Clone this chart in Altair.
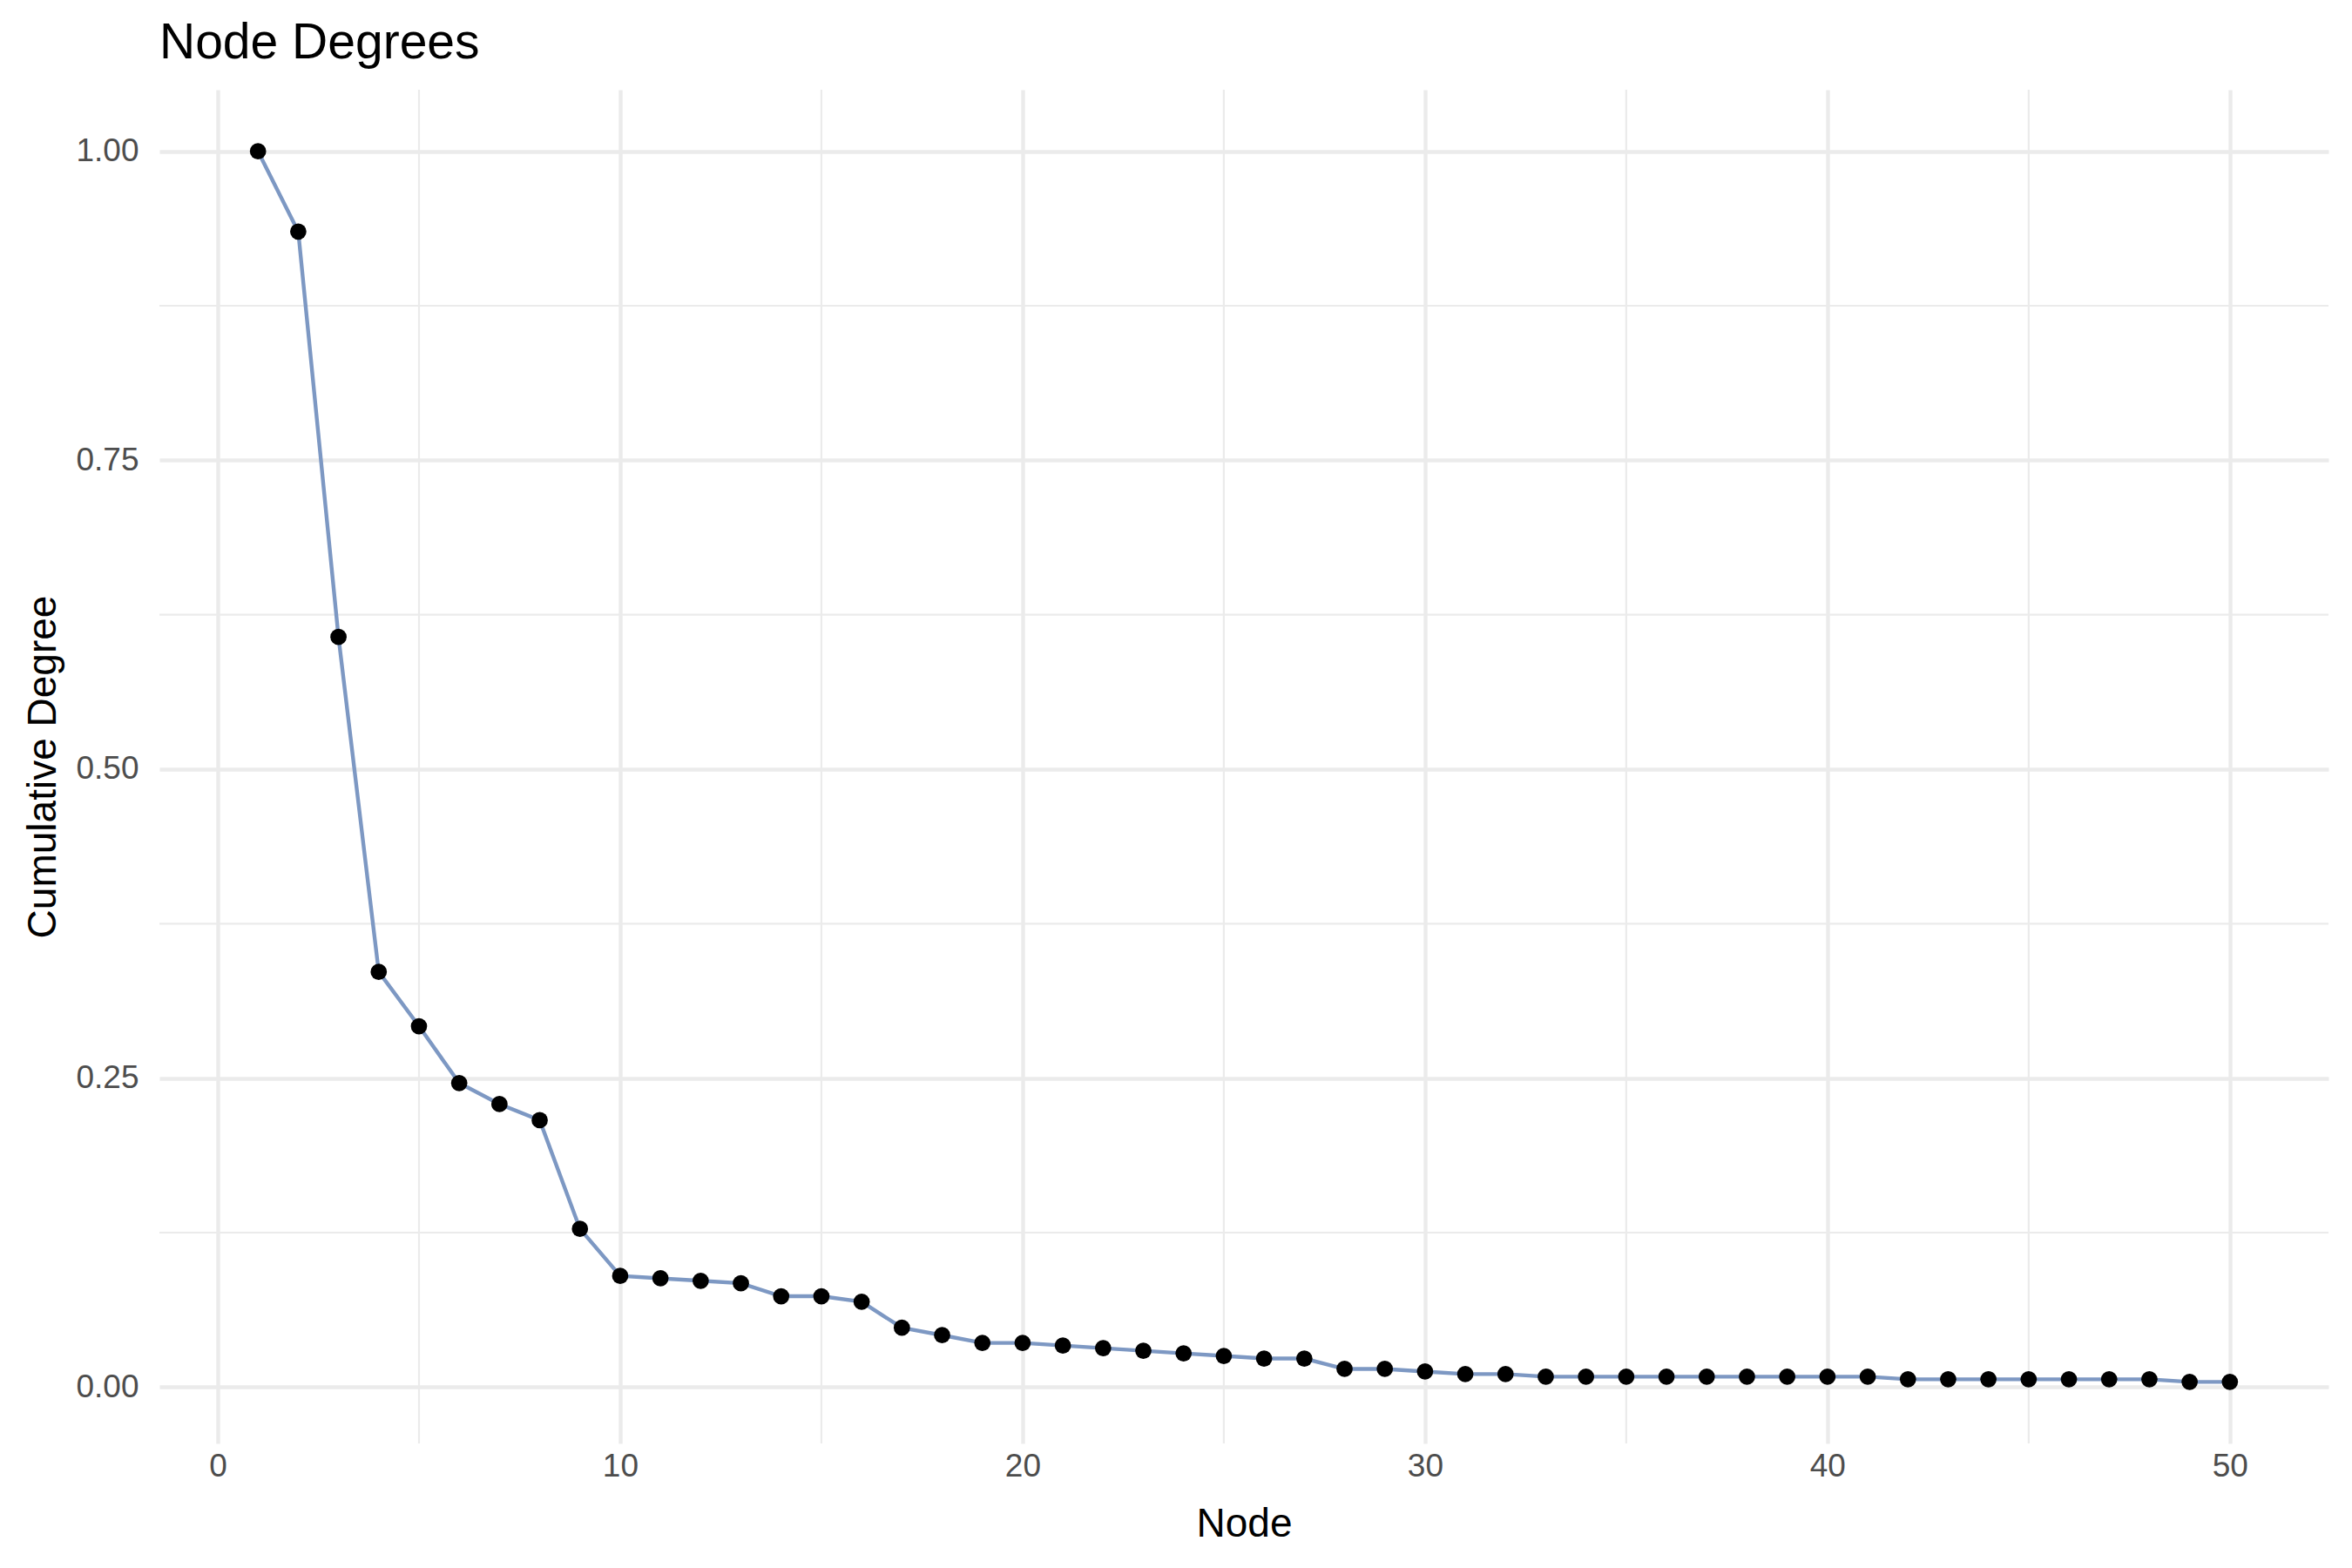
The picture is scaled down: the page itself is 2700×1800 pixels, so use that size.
import altair as alt
import pandas as pd

nodes = list(range(1, 51))
degree = [1.0, 0.935, 0.607, 0.336, 0.292, 0.246, 0.229, 0.216, 0.128, 0.090,
          0.088, 0.086, 0.084, 0.0735, 0.0735, 0.069, 0.048, 0.042, 0.0357, 0.0357,
          0.0336, 0.0315, 0.0294, 0.0273, 0.0252, 0.0231, 0.0231, 0.0147, 0.0147, 0.0126,
          0.0105, 0.0105, 0.0084, 0.0084, 0.0084, 0.0084, 0.0084, 0.0084, 0.0084, 0.0084,
          0.0084, 0.0063, 0.0063, 0.0063, 0.0063, 0.0063, 0.0063, 0.0063, 0.0042, 0.0042]

x_major = [0, 10, 20, 30, 40, 50]
x_minor = [5, 15, 25, 35, 45]
y_major = [0.0, 0.25, 0.5, 0.75, 1.0]
y_minor = [0.125, 0.375, 0.625, 0.875]

df = pd.DataFrame({"Node": nodes, "Degree": degree})
df_xminor = pd.DataFrame({"Node": x_minor})
df_yminor = pd.DataFrame({"Degree": y_minor})

FONT = "Liberation Sans"
GRID = "#EBEBEB"

xscale = alt.Scale(domain=[-1.45, 52.45], nice=False, zero=False)
yscale = alt.Scale(domain=[-0.0456, 1.0498], nice=False, zero=False)

xaxis = alt.Axis(values=x_major, format="d", title="Node", grid=True, gridColor=GRID,
                 gridWidth=4.4, domain=False, ticks=False, labelFont=FONT,
                 labelFontSize=37, labelColor="#4D4D4D", labelPadding=8,
                 titleFont=FONT, titleFontSize=46, titleFontWeight="normal",
                 titleColor="#000000", titlePadding=26)
yaxis = alt.Axis(values=y_major, format=".2f", title="Cumulative Degree", grid=True,
                 gridColor=GRID, gridWidth=4.4, domain=False, ticks=False,
                 labelFont=FONT, labelFontSize=37, labelColor="#4D4D4D",
                 labelPadding=24, titleFont=FONT, titleFontSize=46,
                 titleFontWeight="normal", titleColor="#000000", titlePadding=13)

X = alt.X("Node:Q", scale=xscale, axis=xaxis)
Y = alt.Y("Degree:Q", scale=yscale, axis=yaxis)

vminor = alt.Chart(df_xminor).mark_rule(color=GRID, strokeWidth=2.2).encode(x=X)
hminor = alt.Chart(df_yminor).mark_rule(color=GRID, strokeWidth=2.2).encode(y=Y)

base = alt.Chart(df).encode(x=X, y=Y)
line = base.mark_line(color="#7D98C3", strokeWidth=4.4)
points = base.mark_circle(color="#000000", opacity=1, size=350)

chart = alt.layer(vminor, hminor, line, points).properties(
    width=2490,
    height=1554,
    background="white",
    autosize=alt.AutoSizeParams(type="none"),
    padding={"left": 183, "top": 103, "right": 27, "bottom": 143},
    title=alt.TitleParams("Node Degrees", anchor="start", frame="group",
                          font=FONT, fontSize=57, fontWeight="normal",
                          color="#000000", baseline="alphabetic", offset=36, dy=58),
).configure_view(strokeWidth=0, stroke="transparent")

chart.save("out.html", embed_options={"renderer": "svg", "actions": False})
